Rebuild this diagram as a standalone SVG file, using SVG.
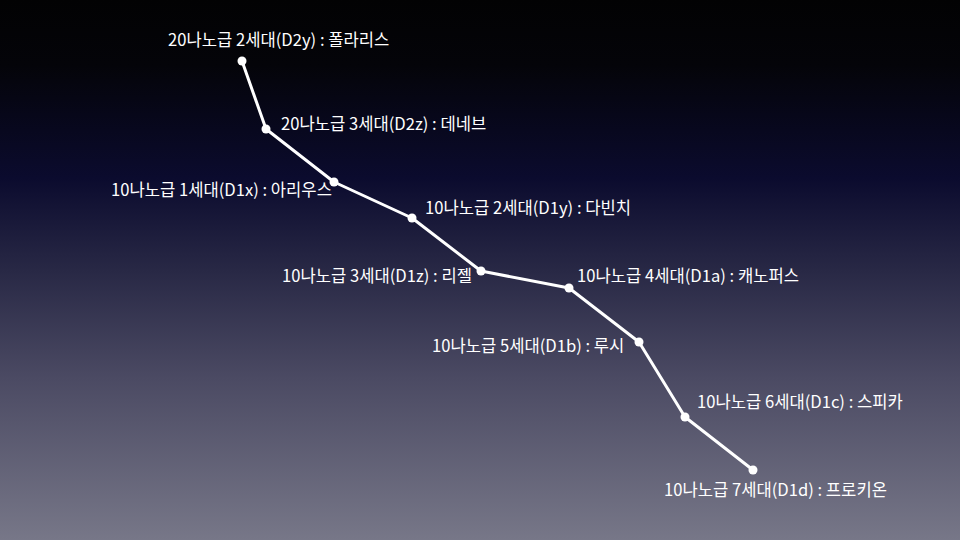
<svg xmlns="http://www.w3.org/2000/svg" width="960" height="540" viewBox="0 0 960 540">
  <defs>
    <linearGradient id="bg" x1="0" y1="0" x2="0" y2="1">
      <stop offset="0" stop-color="#020203"/>
      <stop offset="0.12" stop-color="#040409"/>
      <stop offset="0.33" stop-color="#0b0b2e"/>
      <stop offset="0.5" stop-color="#282845"/>
      <stop offset="0.7" stop-color="#4b4a63"/>
      <stop offset="1" stop-color="#777788"/>
    </linearGradient>
    <style>
      .lbl { font-family: "Noto Sans CJK KR", "Noto Sans", sans-serif; font-size: 16.6px; fill: #ffffff; }
      .dot { fill: #ffffff; }
      .line { fill: none; stroke: #ffffff; stroke-width: 3; stroke-linejoin: round; stroke-linecap: round; }
    </style>
  </defs>
  <rect x="0" y="0" width="960" height="540" fill="url(#bg)"/>
  <g id="connectors">
    <polyline class="line" points="242,61 266,129 334,182 412,218 481,271 569,288 639,342 685,417 753,470"/>
  </g>
  <g id="n1"><circle class="dot" cx="242" cy="61" r="4.5"/><text class="lbl" x="168" y="46">20나노급 2세대(D2y) : 폴라리스</text></g>
  <g id="n2"><circle class="dot" cx="266" cy="129" r="4.5"/><text class="lbl" x="281" y="130">20나노급 3세대(D2z) : 데네브</text></g>
  <g id="n3"><circle class="dot" cx="334" cy="182" r="4.5"/><text class="lbl" x="111" y="196">10나노급 1세대(D1x) : 아리우스</text></g>
  <g id="n4"><circle class="dot" cx="412" cy="218" r="4.5"/><text class="lbl" x="425" y="214">10나노급 2세대(D1y) : 다빈치</text></g>
  <g id="n5"><circle class="dot" cx="481" cy="271" r="4.5"/><text class="lbl" x="282" y="282">10나노급 3세대(D1z) : 리젤</text></g>
  <g id="n6"><circle class="dot" cx="569" cy="288" r="4.5"/><text class="lbl" x="577" y="282">10나노급 4세대(D1a) : 캐노퍼스</text></g>
  <g id="n7"><circle class="dot" cx="639" cy="342" r="4.5"/><text class="lbl" x="432" y="352">10나노급 5세대(D1b) : 루시</text></g>
  <g id="n8"><circle class="dot" cx="685" cy="417" r="4.5"/><text class="lbl" x="697" y="408">10나노급 6세대(D1c) : 스피카</text></g>
  <g id="n9"><circle class="dot" cx="753" cy="470" r="4.5"/><text class="lbl" x="664" y="496">10나노급 7세대(D1d) : 프로키온</text></g>
</svg>
